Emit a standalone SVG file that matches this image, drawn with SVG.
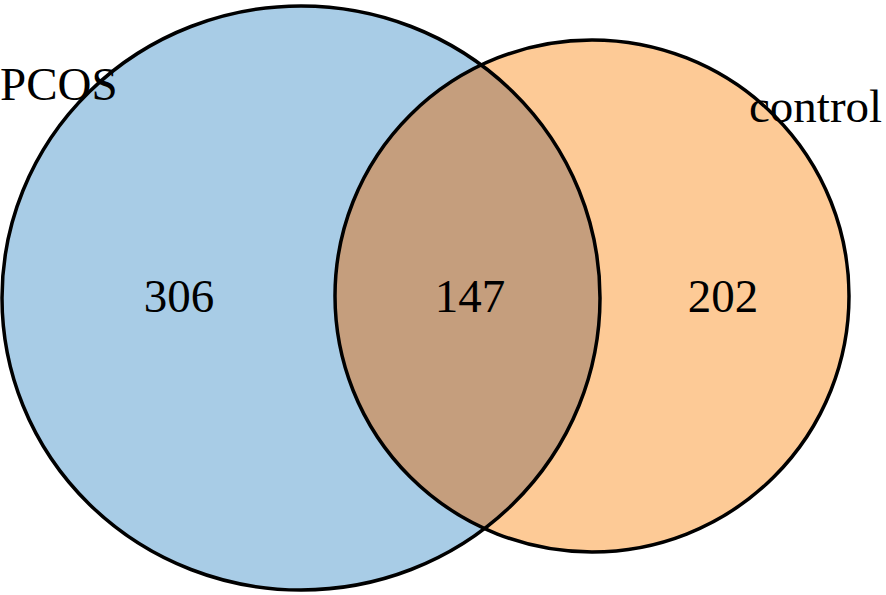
<svg xmlns="http://www.w3.org/2000/svg" width="886" height="595" viewBox="0 0 886 595">
<style>
.set{stroke:#000;stroke-width:3.5}
.lbl{font-family:"Liberation Serif","Times New Roman",serif;font-size:47px;fill:#000}
</style>
<defs>
<clipPath id="clipL"><ellipse cx="301" cy="298" rx="299" ry="292"/></clipPath>
</defs>
<rect width="886" height="595" fill="#fff"/>
<g id="pcos">
<ellipse cx="301" cy="298" rx="299" ry="292" fill="#a8cce6"/>
</g>
<g id="control">
<ellipse cx="592" cy="296" rx="257" ry="256" fill="#fdca96"/>
</g>
<g id="overlap">
<ellipse cx="592" cy="296" rx="257" ry="256" fill="#c59e7d" clip-path="url(#clipL)"/>
</g>
<g id="outlines" fill="none">
<ellipse class="set" cx="301" cy="298" rx="299" ry="292"/>
<ellipse class="set" cx="592" cy="296" rx="257" ry="256"/>
</g>
<g id="labels">
<text class="lbl" x="0" y="100">PCOS</text>
<text class="lbl" x="749" y="122">control</text>
<text class="lbl" x="179" y="312" text-anchor="middle">306</text>
<text class="lbl" x="470" y="312" text-anchor="middle">147</text>
<text class="lbl" x="723" y="312" text-anchor="middle">202</text>
</g>
</svg>
